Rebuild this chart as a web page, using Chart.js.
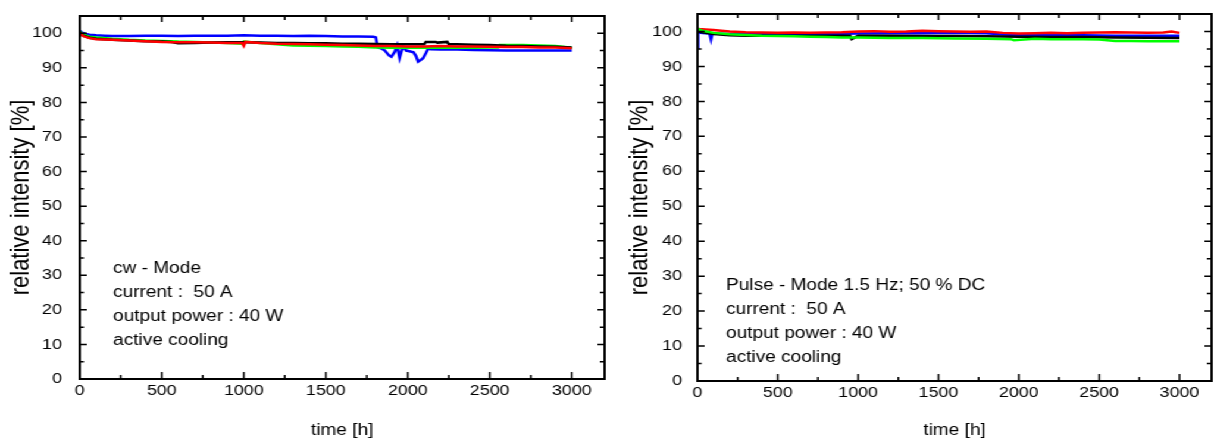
<!DOCTYPE html>
<html>
<head>
<meta charset="utf-8">
<script src="https://cdn.jsdelivr.net/npm/chart.js@4/dist/chart.umd.min.js"></script>
<style>
  body { margin: 0; background: #fff; }
  #wrap { position: absolute; left: 0; top: 0; width: 1020px; height: 443px; transform: scaleX(1.1902); transform-origin: 0 0; }
  canvas { position: absolute; top: 0; }
  #cwChart { left: 0; }
  #pulseChart { left: 515px; }
</style>
</head>
<body>
<div id="wrap">
  <canvas id="cwChart" width="510" height="443"></canvas>
  <canvas id="pulseChart" width="505" height="443"></canvas>
</div>
<script>
// tick labels
const xTicks = [0, 500, 1000, 1500, 2000, 2500, 3000];
const yTicks = [0, 10, 20, 30, 40, 50, 60, 70, 80, 90, 100];

// cw mode (left)
const cwRedT = [0, 20, 60, 100, 200, 300, 400, 500, 600, 700, 800, 900, 990, 1000, 1010, 1100, 1200, 1300, 1400, 1500, 1600, 1700, 1800, 1900, 2000, 2100, 2200, 2300, 2400, 2500, 2600, 2700, 2800, 2900, 3000];
const cwRed = [100.2, 99.2, 98.6, 98.3, 98.1, 97.9, 97.7, 97.5, 97.4, 97.4, 97.3, 97.2, 97.2, 96.4, 97.5, 97.2, 97.0, 96.9, 96.8, 96.7, 96.6, 96.5, 96.3, 96.3, 96.2, 96.2, 96.3, 96.2, 96.2, 96.1, 96.0, 96.0, 95.9, 95.9, 95.7];
const cwBlackT = [0, 20, 60, 100, 200, 300, 400, 500, 560, 600, 700, 800, 900, 1000, 1100, 1200, 1300, 1400, 1500, 1600, 1700, 1800, 1900, 2000, 2100, 2110, 2170, 2180, 2240, 2250, 2300, 2400, 2500, 2600, 2700, 2800, 2900, 3000];
const cwBlack = [100.3, 99.3, 98.7, 98.4, 98.1, 97.9, 97.7, 97.6, 97.5, 97.1, 97.2, 97.3, 97.4, 97.4, 97.3, 97.2, 97.2, 97.1, 97.1, 97.0, 97.0, 96.9, 96.8, 96.8, 96.8, 97.5, 97.5, 97.3, 97.5, 96.8, 96.8, 96.7, 96.6, 96.4, 96.3, 96.2, 96.1, 95.9];
const cwGreenT = [0, 20, 60, 100, 200, 300, 400, 500, 600, 700, 800, 900, 990, 1000, 1100, 1200, 1300, 1400, 1500, 1600, 1700, 1800, 1900, 2000, 2100, 2200, 2300, 2400, 2500, 2550, 2560, 2700, 2800, 2900, 3000];
const cwGreen = [100.5, 99.6, 99.0, 98.8, 98.4, 98.1, 97.9, 97.8, 97.6, 97.5, 97.3, 97.2, 97.0, 97.6, 97.2, 96.8, 96.5, 96.4, 96.3, 96.2, 96.1, 95.9, 95.8, 95.8, 95.8, 95.8, 95.8, 95.8, 95.9, 95.9, 96.6, 96.6, 96.5, 96.3, 95.8];
const cwBlueT = [0, 10, 30, 60, 100, 150, 200, 300, 400, 500, 600, 700, 800, 900, 1000, 1100, 1200, 1300, 1400, 1500, 1600, 1700, 1790, 1805, 1815, 1840, 1860, 1885, 1900, 1920, 1935, 1950, 1970, 1990, 2010, 2035, 2050, 2063, 2080, 2093, 2110, 2124, 2140, 2200, 2300, 2400, 2500, 2600, 2700, 2800, 2900, 3000];
const cwBlue = [100.8, 100.3, 99.9, 99.6, 99.4, 99.3, 99.2, 99.2, 99.3, 99.3, 99.2, 99.3, 99.3, 99.3, 99.4, 99.3, 99.3, 99.2, 99.3, 99.2, 99.1, 99.1, 99.0, 98.8, 96.0, 95.6, 95.0, 93.6, 93.2, 94.6, 96.4, 92.9, 96.2, 95.0, 94.8, 94.5, 93.4, 91.8, 92.3, 92.8, 94.2, 95.5, 95.4, 95.3, 95.3, 95.2, 95.1, 95.0, 95.0, 95.0, 95.0, 95.0];

// pulse mode (right)
const pRedT = [0, 10, 50, 100, 200, 300, 400, 500, 600, 700, 800, 900, 1000, 1100, 1200, 1300, 1400, 1500, 1600, 1700, 1800, 1900, 2000, 2100, 2200, 2300, 2400, 2500, 2600, 2700, 2800, 2900, 2950, 3000];
const pRed = [100.8, 100.7, 100.6, 100.4, 100.0, 99.8, 99.7, 99.6, 99.7, 99.6, 99.7, 99.8, 100.0, 100.1, 99.9, 100.0, 100.2, 100.1, 100.0, 99.9, 100.0, 99.6, 99.4, 99.5, 99.6, 99.5, 99.6, 99.7, 99.8, 99.7, 99.6, 99.7, 100.0, 99.6];
const pBlackT = [0, 50, 100, 200, 300, 500, 700, 900, 950, 960, 1000, 1200, 1400, 1600, 1800, 2000, 2200, 2400, 2600, 2800, 3000];
const pBlack = [100.0, 99.6, 99.3, 98.9, 98.8, 98.8, 98.8, 98.8, 98.8, 97.8, 98.8, 98.8, 98.7, 98.7, 98.6, 98.5, 98.4, 98.4, 98.3, 98.2, 98.1];
const pGreenT = [0, 30, 100, 200, 300, 400, 500, 600, 700, 800, 900, 1000, 1100, 1200, 1400, 1600, 1800, 1950, 1970, 2100, 2200, 2400, 2500, 2600, 2700, 2800, 3000];
const pGreen = [100.8, 100.2, 99.6, 99.2, 99.0, 98.8, 98.7, 98.6, 98.5, 98.4, 98.3, 98.3, 98.2, 98.1, 98.1, 98.0, 97.9, 97.8, 97.5, 97.9, 97.8, 97.8, 97.7, 97.3, 97.3, 97.2, 97.2];
const pBlueT = [0, 1, 5, 20, 50, 75, 84, 92, 100, 200, 400, 600, 800, 1000, 1200, 1400, 1600, 1800, 1900, 2000, 2200, 2400, 2600, 2800, 3000];
const pBlue = [95.3, 100.2, 100.0, 99.6, 99.5, 99.5, 97.8, 99.3, 99.4, 99.3, 99.3, 99.3, 99.3, 99.4, 99.5, 99.5, 99.6, 99.5, 99.1, 99.0, 98.9, 98.9, 98.8, 98.8, 98.8];

const cwNotes = ['cw - Mode', 'current :  50 A', 'output power : 40 W', 'active cooling'];
const pulseNotes = ['Pulse - Mode 1.5 Hz; 50 % DC', 'current :  50 A', 'output power : 40 W', 'active cooling'];

Chart.defaults.font.family = '"Liberation Sans", Arial, sans-serif';
Chart.defaults.color = '#000';

function pts(t, v) {
  return t.map(function (x, i) { return { x: x, y: v[i] }; });
}

// frame with inward ticks on all four sides + the text block
const frameTicks = {
  id: 'frameTicks',
  afterDraw(chart, args, o) {
    const ctx = chart.ctx;
    const a = chart.chartArea;
    const x = chart.scales.x, y = chart.scales.y;
    ctx.save();
    ctx.strokeStyle = '#000';
    ctx.lineWidth = 1.5;
    ctx.beginPath();
    xTicks.forEach(function (v) {
      const p = x.getPixelForValue(v);
      ctx.moveTo(p, a.bottom); ctx.lineTo(p, a.bottom - 7);
      ctx.moveTo(p, a.top); ctx.lineTo(p, a.top + 6);
      if (v + 250 < x.max) {
        const m = x.getPixelForValue(v + 250);
        ctx.moveTo(m, a.bottom); ctx.lineTo(m, a.bottom - 4);
        ctx.moveTo(m, a.top); ctx.lineTo(m, a.top + 4);
      }
    });
    yTicks.forEach(function (v) {
      const p = y.getPixelForValue(v);
      ctx.moveTo(a.left, p); ctx.lineTo(a.left + 6, p);
      ctx.moveTo(a.right, p); ctx.lineTo(a.right - 6, p);
      if (v + 5 < y.max) {
        const m = y.getPixelForValue(v + 5);
        ctx.moveTo(a.left, m); ctx.lineTo(a.left + 3.5, m);
        ctx.moveTo(a.right, m); ctx.lineTo(a.right - 4, m);
      }
    });
    ctx.stroke();
    ctx.lineWidth = 2;
    ctx.strokeRect(a.left, a.top, a.right - a.left, a.bottom - a.top);

    ctx.fillStyle = '#000';
    ctx.font = '16px "Liberation Sans", Arial, sans-serif';
    ctx.textBaseline = 'alphabetic';
    o.lines.forEach(function (s, i) {
      ctx.fillText(s, a.left + o.dx, o.y0 + i * 24.1);
    });
    ctx.restore();
  }
};

function makeChart(id, sets, cfg) {
  return new Chart(document.getElementById(id), {
    type: 'line',
    data: {
      datasets: sets.map(function (s) {
        return { data: s.data, borderColor: s.color, backgroundColor: s.color, borderWidth: 2.5, pointRadius: 0, tension: 0, fill: false };
      })
    },
    options: {
      responsive: false,
      animation: false,
      layout: { padding: { top: cfg.top, right: cfg.right, left: 0, bottom: 0 } },
      plugins: {
        legend: { display: false },
        tooltip: { enabled: false },
        frameTicks: { lines: cfg.notes, dx: cfg.dx, y0: cfg.y0 }
      },
      scales: {
        x: {
          type: 'linear', min: 0, max: 3200,
          afterBuildTicks: function (s) { s.ticks = xTicks.map(function (v) { return { value: v }; }); },
          afterFit: function (s) { s.height = cfg.xh; },
          grid: { display: false },
          border: { display: false },
          ticks: { padding: -5, autoSkip: false, maxRotation: 0, font: { size: 15 }, callback: function (v) { return String(v); } },
          title: { display: true, text: 'time [h]', font: { size: 16 }, padding: { top: 0, bottom: 3 } }
        },
        y: {
          min: 0, max: 105,
          afterBuildTicks: function (s) { s.ticks = yTicks.map(function (v) { return { value: v }; }); },
          afterFit: function (s) { s.width = cfg.yw; },
          grid: { display: false },
          border: { display: false },
          ticks: { padding: cfg.tp, autoSkip: false, font: { size: 15 }, callback: function (v) { return String(v); } },
          title: { display: true, text: 'relative intensity [%]', font: { size: 22 }, padding: { top: cfg.tt, bottom: 0 } }
        }
      }
    },
    plugins: [frameTicks]
  });
}

makeChart('cwChart', [
  { data: pts(cwRedT, cwRed), color: '#ff0000' },
  { data: pts(cwBlackT, cwBlack), color: '#000000' },
  { data: pts(cwGreenT, cwGreen), color: '#00ff00' },
  { data: pts(cwBlueT, cwBlue), color: '#0000ff' }
], { top: 10, right: 2, xh: 64, yw: 67, tp: 7, tt: 5, notes: cwNotes, dx: 28, y0: 273 });

makeChart('pulseChart', [
  { data: pts(pGreenT, pGreen), color: '#00ff00' },
  { data: pts(pBlackT, pBlack), color: '#000000' },
  { data: pts(pRedT, pRed), color: '#ff0000' },
  { data: pts(pBlueT, pBlue), color: '#0000ff' }
], { top: 14, right: 2, xh: 62, yw: 71, tp: 5, tt: 10, notes: pulseNotes, dx: 24, y0: 290 });
</script>
</body>
</html>
